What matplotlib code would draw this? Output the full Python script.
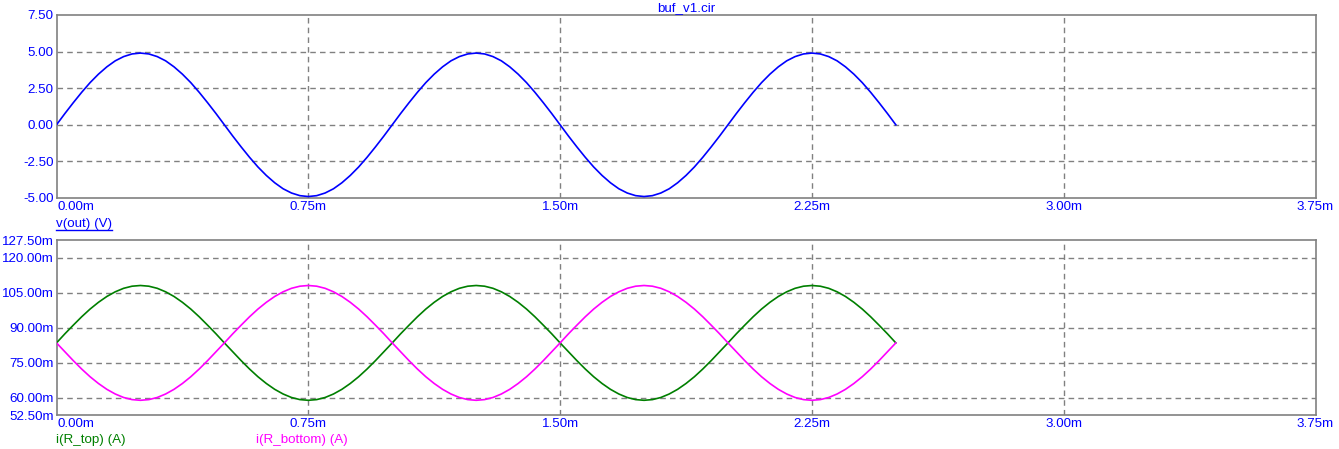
import matplotlib
matplotlib.use("Agg")
import matplotlib.pyplot as plt
from matplotlib.ticker import FixedLocator, FuncFormatter
from matplotlib.transforms import blended_transform_factory

plt.rcParams['font.family'] = ['Liberation Sans', 'DejaVu Sans']

# time axis in ms (0 .. 2.5 ms, 0.025 ms step)
time_ms = [round(i * 0.025, 3) for i in range(101)]

# v(out) in volts
v_out = [
    0.00, 0.77, 1.51, 2.22, 2.88, 3.46, 3.96, 4.37, 4.66, 4.84, 4.90, 4.84, 4.66, 4.37, 3.96, 3.46, 2.88, 2.22, 1.51, 0.77,
    0.00, -0.77, -1.51, -2.22, -2.88, -3.46, -3.96, -4.37, -4.66, -4.84, -4.90, -4.84, -4.66, -4.37, -3.96, -3.46, -2.88, -2.22, -1.51, -0.77,
    0.00, 0.77, 1.51, 2.22, 2.88, 3.46, 3.96, 4.37, 4.66, 4.84, 4.90, 4.84, 4.66, 4.37, 3.96, 3.46, 2.88, 2.22, 1.51, 0.77,
    0.00, -0.77, -1.51, -2.22, -2.88, -3.46, -3.96, -4.37, -4.66, -4.84, -4.90, -4.84, -4.66, -4.37, -3.96, -3.46, -2.88, -2.22, -1.51, -0.77,
    0.00, 0.77, 1.51, 2.22, 2.88, 3.46, 3.96, 4.37, 4.66, 4.84, 4.90, 4.84, 4.66, 4.37, 3.96, 3.46, 2.88, 2.22, 1.51, 0.77,
    0.00,
]

# i(R_top) in mA
i_r_top = [
    83.4, 87.3, 91.0, 94.6, 97.9, 100.8, 103.3, 105.3, 106.8, 107.7, 108.0, 107.7, 106.8, 105.3, 103.3, 100.8, 97.9, 94.6, 91.0, 87.3,
    83.4, 79.6, 75.8, 72.2, 68.9, 66.0, 63.5, 61.5, 60.0, 59.1, 58.8, 59.1, 60.0, 61.5, 63.5, 66.0, 68.9, 72.2, 75.8, 79.6,
    83.4, 87.3, 91.0, 94.6, 97.9, 100.8, 103.3, 105.3, 106.8, 107.7, 108.0, 107.7, 106.8, 105.3, 103.3, 100.8, 97.9, 94.6, 91.0, 87.3,
    83.4, 79.6, 75.8, 72.2, 68.9, 66.0, 63.5, 61.5, 60.0, 59.1, 58.8, 59.1, 60.0, 61.5, 63.5, 66.0, 68.9, 72.2, 75.8, 79.6,
    83.4, 87.3, 91.0, 94.6, 97.9, 100.8, 103.3, 105.3, 106.8, 107.7, 108.0, 107.7, 106.8, 105.3, 103.3, 100.8, 97.9, 94.6, 91.0, 87.3,
    83.4,
]

# i(R_bottom) in mA
i_r_bottom = [
    83.4, 79.6, 75.8, 72.2, 68.9, 66.0, 63.5, 61.5, 60.0, 59.1, 58.8, 59.1, 60.0, 61.5, 63.5, 66.0, 68.9, 72.2, 75.8, 79.6,
    83.4, 87.3, 91.0, 94.6, 97.9, 100.8, 103.3, 105.3, 106.8, 107.7, 108.0, 107.7, 106.8, 105.3, 103.3, 100.8, 97.9, 94.6, 91.0, 87.3,
    83.4, 79.6, 75.8, 72.2, 68.9, 66.0, 63.5, 61.5, 60.0, 59.1, 58.8, 59.1, 60.0, 61.5, 63.5, 66.0, 68.9, 72.2, 75.8, 79.6,
    83.4, 87.3, 91.0, 94.6, 97.9, 100.8, 103.3, 105.3, 106.8, 107.7, 108.0, 107.7, 106.8, 105.3, 103.3, 100.8, 97.9, 94.6, 91.0, 87.3,
    83.4, 79.6, 75.8, 72.2, 68.9, 66.0, 63.5, 61.5, 60.0, 59.1, 58.8, 59.1, 60.0, 61.5, 63.5, 66.0, 68.9, 72.2, 75.8, 79.6,
    83.4,
]

x_ticks = [0.0, 0.75, 1.5, 2.25, 3.0, 3.75]
top_yticks = [-5.0, -2.5, 0.0, 2.5, 5.0, 7.5]
bot_yticks = [52.5, 60.0, 75.0, 90.0, 105.0, 120.0, 127.5]

title = "buf_v1.cir"
TXT = "#0000FF"
SPINE = "#808080"
FS = 9.6

W, H = 1339, 449
fig = plt.figure(figsize=(W / 100, H / 100), dpi=100)
fig.patch.set_facecolor("white")

def fx(px):
    return px / W

def fy(py):
    return 1 - py / H

left, right = 56.5, 1315.5
ax1 = fig.add_axes([fx(left), fy(198), fx(right - left), (198 - 15) / H])
ax2 = fig.add_axes([fx(left), fy(415), fx(right - left), (415 - 240) / H])

def style(ax, yticks, ylim, yfmt, grid_y):
    ax.set_xlim(0, 3.75)
    ax.set_ylim(*ylim)
    ax.set_facecolor("white")
    for s in ax.spines.values():
        s.set_color(SPINE)
        s.set_linewidth(1.2)
    ax.yaxis.set_major_locator(FixedLocator(yticks))
    ax.yaxis.set_major_formatter(FuncFormatter(yfmt))
    ax.xaxis.set_major_locator(FixedLocator(x_ticks))
    ax.set_xticklabels([])
    ax.tick_params(axis='both', length=0, labelsize=FS, labelcolor=TXT, pad=2)
    for xv in x_ticks[1:-1]:
        ax.axvline(xv, color=SPINE, lw=1, ls=(0, (4, 3)), zorder=0)
    for yv in grid_y:
        ax.axhline(yv, color=SPINE, lw=1, ls=(0, (4, 3)), zorder=0)

style(ax1, top_yticks, (-5.0, 7.5), lambda v, p: f"{v:.2f}", [-2.5, 0.0, 2.5, 5.0])
style(ax2, bot_yticks, (52.5, 127.5), lambda v, p: f"{v:.2f}m", [60.0, 75.0, 90.0, 105.0, 120.0])

ax1.plot(time_ms, v_out, color="#0000FF", lw=1.2, zorder=3)
ax2.plot(time_ms, i_r_top, color="#007F00", lw=1.2, zorder=3)
ax2.plot(time_ms, i_r_bottom, color="#FF00FF", lw=1.2, zorder=3)

# x tick labels (SPICE style)
def xlabels(ax, ypix):
    tr = blended_transform_factory(ax.transData, fig.transFigure)
    for i, xv in enumerate(x_ticks):
        lbl = f"{xv:.2f}m"
        ha = "left" if i == 0 else "center"
        xoff = 0.002 if i == 0 else 0
        ax.text(xv + xoff, fy(ypix), lbl, transform=tr,
                ha=ha, va="center", fontsize=FS, color=TXT)

xlabels(ax1, 207)
xlabels(ax2, 424)

fig.text(0.5 * (fx(left) + fx(right)), fy(8), title, ha="center", va="center", fontsize=FS, color=TXT)
t = fig.text(fx(56), fy(224), "v(out) (V)", ha="left", va="center", fontsize=FS, color=TXT)
fig.canvas.draw()
bb = t.get_window_extent()
fig.add_artist(plt.Line2D([bb.x0 / W, bb.x1 / W], [(bb.y0 + 0.5) / H, (bb.y0 + 0.5) / H],
                          color=TXT, lw=1, transform=fig.transFigure))
fig.text(fx(56), fy(440), "i(R_top) (A)", ha="left", va="center", fontsize=FS, color="#008000")
fig.text(fx(256), fy(440), "i(R_bottom) (A)", ha="left", va="center", fontsize=FS, color="#FF00FF")

fig.savefig("out.png", dpi=100)
